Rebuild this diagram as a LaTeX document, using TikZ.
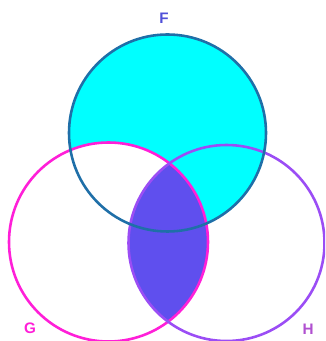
\documentclass[tikz,border=0pt]{standalone}
\usepackage{fontspec}
\setmainfont{Liberation Sans}
\definecolor{fline}{HTML}{1F6FA8}
\definecolor{gline}{HTML}{FF1FD8}
\definecolor{hline}{HTML}{9B4DF5}
\definecolor{fcyan}{HTML}{00FFFF}
\definecolor{gh}{HTML}{5F4FEE}
\definecolor{flab}{HTML}{5050D8}
\definecolor{hlab}{HTML}{B050D0}
\begin{document}
\begin{tikzpicture}[x=0.03cm,y=0.03cm,line width=2.2pt,
  setlabel/.style={font=\bfseries\fontsize{13}{13}\selectfont}]
  \useasboundingbox (0,0) rectangle (325,341);
  \clip (0,0) rectangle (325,341);
  % circle centres
  \coordinate (F) at (167.5,208);
  \coordinate (G) at (108.5,99);
  \coordinate (H) at (226.5,98);
  % F without G
  \fill[fcyan] (F) circle (98.5);
  \begin{scope}
    \clip (F) circle (98.5);
    \fill[white] (G) circle (99.5);
  \end{scope}
  % G and H
  \begin{scope}
    \clip (G) circle (99.5);
    \fill[gh] (H) circle (98);
  \end{scope}
  % outlines
  \draw[gline] (G) circle (99.5);
  \draw[hline] (H) circle (98);
  \draw[fline] (F) circle (98.5);
  % labels
  \node[setlabel, text=flab] (labF) at (164,323) {F};
  \node[setlabel, text=gline] (labG) at (30,13) {G};
  \node[setlabel, text=hlab] (labH) at (308,12) {H};
\end{tikzpicture}
\end{document}
